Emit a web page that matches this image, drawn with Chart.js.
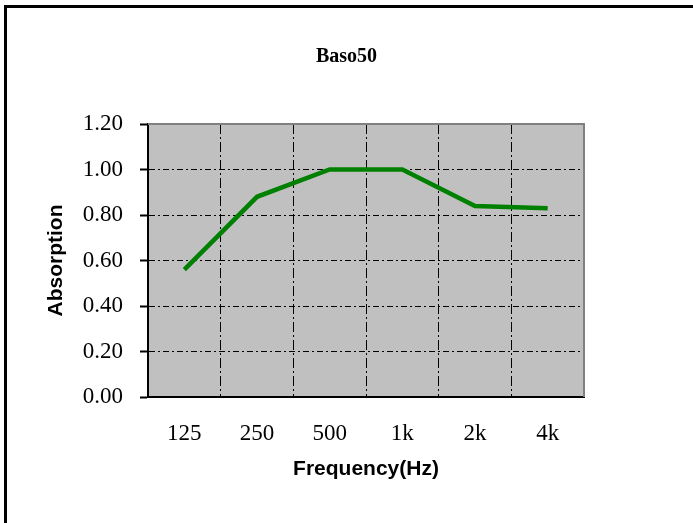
<!DOCTYPE html>
<html>
<head>
<meta charset="utf-8">
<script src="https://cdn.jsdelivr.net/npm/chart.js@4.4.0/dist/chart.umd.min.js"></script>
<style>
  html, body { margin: 0; padding: 0; background: #fff; }
  #wrap { position: relative; width: 693px; height: 523px; overflow: hidden; }
  #frame { position: absolute; left: 4px; top: 5px; right: -10px; bottom: -10px;
           border-top: 3px solid #000; border-left: 3px solid #000; pointer-events: none; }
  canvas { position: absolute; left: 0; top: 0; }
</style>
</head>
<body>
<div id="wrap">
  <canvas id="absChart" width="693" height="523"></canvas>
  <div id="frame"></div>
</div>
<script>
const frequencies = ['125', '250', '500', '1k', '2k', '4k'];
const absorption = [0.56, 0.88, 1.00, 1.00, 0.84, 0.83];
const yTicks = [0, 0.2, 0.4, 0.6, 0.8, 1.0, 1.2];

// grey plot background + grey top/right frame like the old Excel chart
const plotBox = {
    id: 'plotBox',
    beforeDraw(chart) {
        const { ctx, chartArea: a } = chart;
        ctx.save();
        ctx.fillStyle = '#c0c0c0';
        ctx.fillRect(a.left, a.top, a.right - a.left, a.bottom - a.top);
        ctx.restore();
    },
    afterDatasetsDraw(chart) {
        const { ctx, chartArea: a } = chart;
        ctx.save();
        ctx.strokeStyle = '#808080';
        ctx.lineWidth = 2;
        ctx.beginPath();
        ctx.moveTo(a.left, a.top);
        ctx.lineTo(a.right, a.top);
        ctx.lineTo(a.right, a.bottom);
        ctx.stroke();
        ctx.restore();
    }
};

const serif = '"Liberation Serif", "Times New Roman", serif';
const sans = '"Liberation Sans", Arial, sans-serif';

const ctx = document.getElementById('absChart').getContext('2d');

const absChart = new Chart(ctx, {
    type: 'line',
    data: {
        labels: frequencies,
        datasets: [{
            label: 'Baso50',
            data: absorption,
            borderColor: '#008000',
            borderWidth: 4.5,
            pointRadius: 0,
            tension: 0
        }]
    },
    options: {
        responsive: false,
        animation: false,
        layout: { padding: 0 },
        plugins: {
            legend: { display: false },
            tooltip: { enabled: false },
            title: {
                display: true,
                text: 'Baso50',
                color: '#000',
                font: { family: serif, size: 20, weight: 'bold', lineHeight: 1.2 },
                padding: { top: 45, bottom: 55 }
            }
        },
        scales: {
            x: {
                offset: true,
                afterFit(scale) { scale.height = 126; },
                grid: {
                    offset: true,
                    color: '#000',
                    lineWidth: 1,
                    drawTicks: false
                },
                border: { display: true, color: '#000', width: 2, dash: [10, 3, 2, 3] },
                ticks: {
                    color: '#000',
                    padding: 23,
                    font: { family: serif, size: 23 }
                },
                title: {
                    display: true,
                    text: 'Frequency(Hz)',
                    color: '#000',
                    font: { family: sans, size: 21, weight: 'bold', lineHeight: 1.2 },
                    padding: { top: 0, bottom: 41 }
                }
            },
            y: {
                min: 0,
                max: 1.2,
                afterFit(scale) { scale.width = 148; },
                afterBuildTicks(scale) { scale.ticks = yTicks.map(v => ({ value: v })); },
                grid: {
                    color: c => (c.tick && (c.tick.value === 0 || c.tick.value === 1.2)) ? 'rgba(0,0,0,0)' : '#000',
                    lineWidth: 1,
                    tickColor: '#000',
                    tickLength: 8,
                    tickWidth: 2
                },
                border: { display: true, color: '#000', width: 2, dash: [6, 3, 2, 3] },
                ticks: {
                    color: '#000',
                    padding: 17,
                    font: { family: serif, size: 23 },
                    callback: v => Number(v).toFixed(2)
                },
                title: {
                    display: true,
                    text: 'Absorption',
                    color: '#000',
                    font: { family: sans, size: 21, weight: 'bold', lineHeight: 1.2 },
                    padding: { top: 44, bottom: 0 }
                }
            },
            // empty right-hand axis only reserves the white margin
            yRight: {
                position: 'right',
                min: 0,
                max: 1.2,
                afterFit(scale) { scale.width = 109; },
                grid: { display: false },
                border: { display: false },
                ticks: { display: false }
            }
        }
    },
    plugins: [plotBox]
});
</script>
</body>
</html>
